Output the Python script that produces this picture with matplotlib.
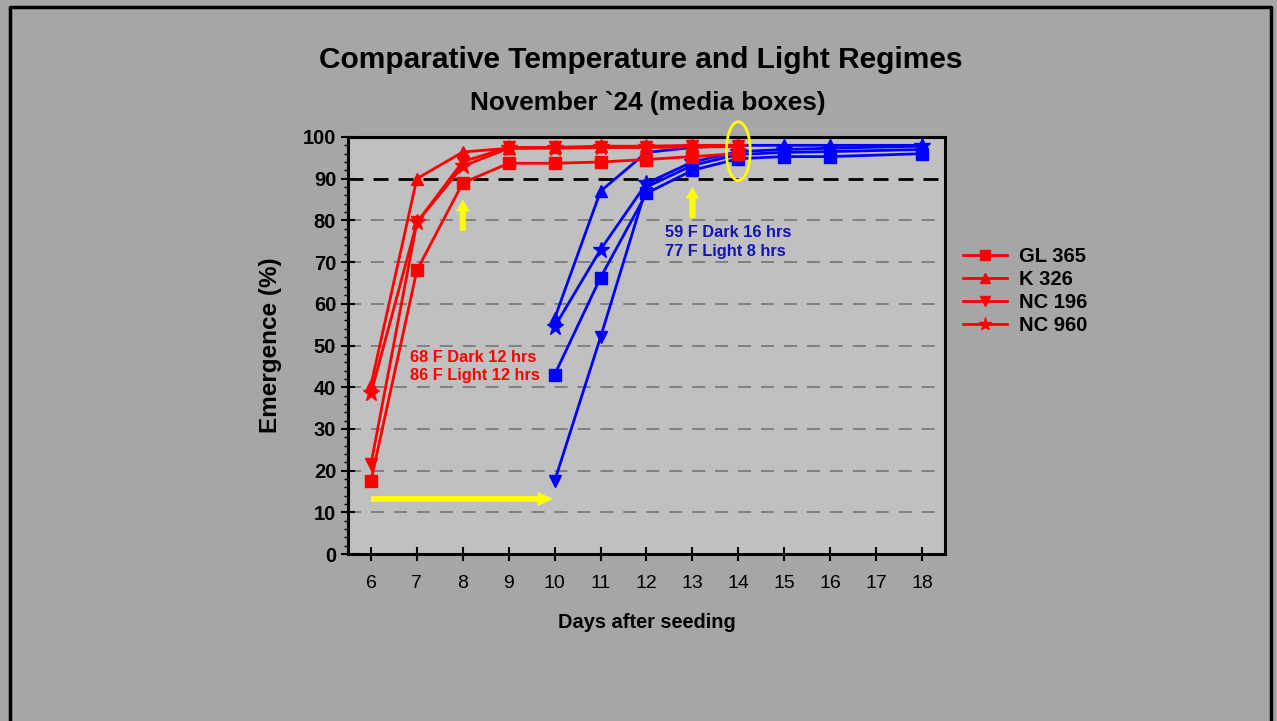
import matplotlib
matplotlib.use("Agg")
import matplotlib.pyplot as plt
from matplotlib.patches import Ellipse, FancyArrow
from matplotlib.lines import Line2D

plt.rcParams["font.family"] = ["Liberation Sans", "DejaVu Sans"]

varieties = ["GL 365", "K 326", "NC 196", "NC 960"]
markers = ["s", "^", "v", "*"]

# first regime (68/86 F, 12 h), days 6-14
days_a = [6, 7, 8, 9, 10, 11, 12, 13, 14]
gl365_a = [17.5, 68.0, 89.0, 93.7, 93.7, 94.0, 94.6, 95.3, 96.0]
k326_a = [40.5, 90.0, 96.4, 97.3, 97.5, 97.8, 97.8, 98.0, 98.0]
nc196_a = [21.5, 79.5, 94.1, 97.5, 97.5, 97.5, 97.6, 97.8, 97.8]
nc960_a = [38.5, 79.5, 93.0, 97.3, 97.3, 97.5, 97.5, 97.6, 97.7]

# second regime (59/77 F, 16/8 h), days 10-18
days_b = [10, 11, 12, 13, 14, 15, 16, 18]
gl365_b = [43.0, 66.3, 86.5, 92.0, 94.8, 95.3, 95.3, 96.0]
k326_b = [56.5, 87.0, 96.3, 97.5, 98.0, 98.0, 98.0, 98.0]
nc196_b = [17.5, 52.0, 88.0, 93.2, 95.8, 96.3, 96.5, 97.0]
nc960_b = [54.5, 73.0, 88.9, 94.0, 96.5, 97.0, 97.3, 97.8]

series_a = [gl365_a, k326_a, nc196_a, nc960_a]
series_b = [gl365_b, k326_b, nc196_b, nc960_b]
day_ticks = [6, 7, 8, 9, 10, 11, 12, 13, 14, 15, 16, 17, 18]

RED = "#ff0000"
BLUE = "#0000ff"
YELLOW = "#ffff00"

fig = plt.figure(figsize=(12.77, 7.21), dpi=100)
fig.patch.set_facecolor("#a6a6a6")
ax = fig.add_axes([0.2725, 0.2316, 0.4675, 0.5784])
ax.set_facecolor("#c0c0c0")

# frame lines around the slide
fig.add_artist(Line2D([0.0075, 0.0075, 0.9955, 0.9955], [0.0, 0.9905, 0.9905, 0.0],
                      transform=fig.transFigure, color="black", lw=2.5))

for y in range(10, 90, 10):
    ax.axhline(y, color="#808080", lw=1.4, dashes=(6.7, 5.1), zorder=1)
ax.axhline(90, color="black", lw=2.0, dashes=(5.4, 3.6), zorder=1)


def msize(m):
    return 12 if m == "*" else 8.5


for ys, m in zip(series_b, markers):
    ax.plot(days_b, ys, color=BLUE, marker=m, ms=msize(m), lw=2.0, zorder=3)
for ys, m, name in zip(series_a, markers, varieties):
    ax.plot(days_a, ys, color=RED, marker=m, ms=msize(m), lw=2.0, zorder=4, label=name)

# highlights
ax.add_patch(Ellipse((14, 96.6), 0.52, 14.1, fill=False, edgecolor=YELLOW, lw=2,
                     zorder=5, clip_on=False))
ax.add_patch(FancyArrow(6.0, 13.2, 3.96, 0, width=1.4, head_width=3.4, head_length=0.33,
                        length_includes_head=True, color=YELLOW, lw=0, zorder=5))
for x0, y0 in [(8, 77.5), (13, 80.5)]:
    ax.add_patch(FancyArrow(x0, y0, 0, 7.5, width=0.13, head_width=0.3, head_length=2.8,
                            length_includes_head=True, color=YELLOW, lw=0, zorder=5))

ax.text(6.85, 45.0, "68 F Dark 12 hrs\n86 F Light 12 hrs", color=RED, fontsize=11.8,
        fontweight="bold", va="center", ha="left", linespacing=1.3, zorder=6)
ax.text(12.4, 74.8, "59 F Dark 16 hrs\n77 F Light 8 hrs", color="#1414b4", fontsize=11.8,
        fontweight="bold", va="center", ha="left", linespacing=1.3, zorder=6)

ax.set_xlim(5.5, 18.5)
ax.set_ylim(0, 100)
ax.set_xticks(day_ticks)
ax.set_yticks(range(0, 101, 10))
ax.set_yticks(range(0, 101, 2), minor=True)
ax.tick_params(axis="x", direction="inout", length=10, width=1.5, labelsize=14, pad=10)
ax.tick_params(axis="y", which="major", direction="inout", length=10, width=1.5, labelsize=14.5)
ax.tick_params(axis="y", which="minor", direction="out", length=3, width=1)
for lbl in ax.get_yticklabels():
    lbl.set_fontweight("bold")
for sp in ax.spines.values():
    sp.set_linewidth(2.2)

ax.set_xlabel("Days after seeding", fontsize=14.4, fontweight="bold", labelpad=15)
ax.set_ylabel("Emergence (%)", fontsize=17.5, fontweight="bold", labelpad=15)

fig.text(0.502, 0.917, "Comparative Temperature and Light Regimes", ha="center", va="center",
         fontsize=21.5, fontweight="bold")
fig.text(0.507, 0.857, "November `24 (media boxes)", ha="center", va="center",
         fontsize=18.8, fontweight="bold")

leg = ax.legend(loc="upper left", bbox_to_anchor=(1.0, 0.78), frameon=False,
                prop={"weight": "bold", "size": 14.5}, handlelength=2.2,
                labelspacing=0.2, handletextpad=0.6, markerscale=0.8)

fig.savefig("out.png", dpi=100, facecolor=fig.get_facecolor())
